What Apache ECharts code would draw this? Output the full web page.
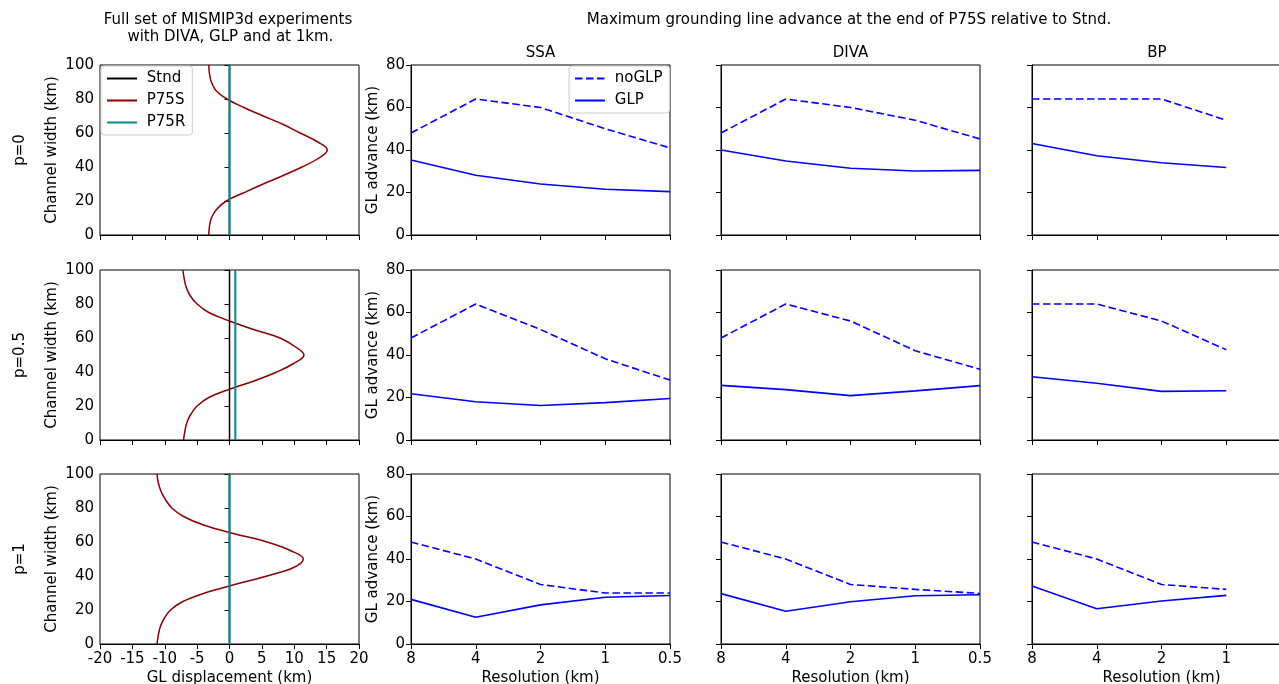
<!DOCTYPE html>
<html>
<head>
<meta charset="utf-8">
<script src="https://cdn.jsdelivr.net/npm/echarts@6/dist/echarts.min.js"></script>
<style>html,body{margin:0;padding:0;background:#fff;}#c{width:1279px;height:684px;}</style>
</head>
<body>
<div id="c"></div>
<script>
// ---------- data ----------
const rowLabels = ['p=0', 'p=0.5', 'p=1'];
const modelNames = ['SSA', 'DIVA', 'BP'];
const resolution = [8, 4, 2, 1, 0.5];
const resolutionBP = [8, 4, 2, 1];
const resolutionTicks = ['8', '4', '2', '1', '0.5'];

// channel-width coordinate for the P75S profiles (km)
const widthY = [0, 5, 10, 15, 20, 25, 30, 35, 40, 45, 50, 55, 60, 65, 70, 75, 80, 85, 90, 95, 100];
// GL displacement of P75S (km) read at widthY
const p75s_p0  = [-3.2, -3.1, -2.8, -2.0, -0.5, 2.3, 5.2, 8.3, 11.2, 13.7, 15.1, 13.5, 10.9, 8.3, 5.2, 2.2, -0.4, -2.1, -2.8, -3.1, -3.2];
const p75s_p05 = [-7.1, -6.9, -6.6, -6.0, -5.0, -3.2, 0.1, 4.0, 7.3, 9.9, 11.5, 10.1, 7.8, 3.7, 0.0, -3.2, -5.0, -6.1, -6.7, -7.0, -7.2];
const p75s_p1  = [-11.2, -11.0, -10.7, -10.1, -9.1, -7.2, -3.8, 0.8, 5.8, 9.9, 11.4, 9.4, 5.8, 0.6, -4.0, -7.1, -8.9, -9.9, -10.6, -11.0, -11.2];
const stndPos = [0, 0, 0];
const p75rPos = [0, 0.9, 0];

// maximum GL advance (km)
const ssaNoGLP_p0  = [48, 64, 60, 50, 41];
const ssaGLP_p0    = [35.3, 28.1, 24, 21.5, 20.4];
const ssaNoGLP_p05 = [48, 64, 52, 38.2, 28.2];
const ssaGLP_p05   = [21.8, 18, 16.2, 17.6, 19.5];
const ssaNoGLP_p1  = [48, 40, 28, 24, 24];
const ssaGLP_p1    = [21, 12.6, 18.4, 22, 22.8];

const divaNoGLP_p0  = [48, 64, 60, 54, 45.2];
const divaGLP_p0    = [40, 34.8, 31.4, 30.1, 30.4];
const divaNoGLP_p05 = [48, 64, 56, 42, 33.3];
const divaGLP_p05   = [25.7, 23.7, 20.9, 23.1, 25.6];
const divaNoGLP_p1  = [48, 40, 28, 25.7, 23.8];
const divaGLP_p1    = [23.7, 15.4, 19.9, 22.7, 23.2];

const bpNoGLP_p0  = [64, 64, 64, 54];
const bpGLP_p0    = [43.1, 37.3, 34, 31.8];
const bpNoGLP_p05 = [64, 64, 56, 42.5];
const bpGLP_p05   = [29.8, 26.7, 22.9, 23.2];
const bpNoGLP_p1  = [48, 40, 28, 25.7];
const bpGLP_p1    = [27.3, 16.6, 20.2, 22.9];

// ---------- layout ----------
const FONT = 'DejaVu Sans';
const FS = 15;
const rowTop = [65, 270, 474];
const colLeft = [100, 411, 721, 1032];
const PW = 259, PH = 170;
const BLUE = '#0000ff', DARKRED = '#8b0000', TEAL = '#008b8b';

const profiles = [p75s_p0, p75s_p05, p75s_p1];
const adv = [
  [[ssaNoGLP_p0, ssaGLP_p0], [divaNoGLP_p0, divaGLP_p0], [bpNoGLP_p0, bpGLP_p0]],
  [[ssaNoGLP_p05, ssaGLP_p05], [divaNoGLP_p05, divaGLP_p05], [bpNoGLP_p05, bpGLP_p05]],
  [[ssaNoGLP_p1, ssaGLP_p1], [divaNoGLP_p1, divaGLP_p1], [bpNoGLP_p1, bpGLP_p1]]
];

const grid = [], xAxis = [], yAxis = [], series = [];
const axisLine = {show: true, lineStyle: {color: '#000', width: 1}};
const axisTick = {show: true, inside: false, length: 5, lineStyle: {color: '#000', width: 1}};
const lbl = (show, m) => ({show: show, color: '#000', fontSize: FS, fontFamily: FONT, margin: m || 6});
const nameStyle = {color: '#000', fontSize: FS, fontFamily: FONT};

let g = 0;
for (let r = 0; r < 3; r++) {
  for (let c = 0; c < 4; c++) {
    grid.push({left: colLeft[c], top: rowTop[r], width: PW, height: PH, show: true,
      borderColor: '#000', borderWidth: 1, backgroundColor: 'transparent',
      containLabel: false, outerBoundsMode: 'none'});
    const bottom = r === 2;
    if (c === 0) {
      xAxis.push({gridIndex: g, type: 'value', min: -20, max: 20, interval: 5,
        axisLine, axisTick, splitLine: {show: false}, axisLabel: lbl(bottom, 8),
        name: bottom ? 'GL displacement (km)' : '', nameLocation: 'middle', nameGap: 27,
        nameTextStyle: nameStyle});
      yAxis.push({gridIndex: g, type: 'value', min: 0, max: 100, interval: 20,
        axisLine, axisTick, splitLine: {show: false}, axisLabel: lbl(true),
        name: 'Channel width (km)', nameLocation: 'middle', nameGap: 40, nameRotate: 90,
        nameTextStyle: nameStyle});
      const prof = profiles[r];
      series.push({name: 'Stnd', type: 'line', xAxisIndex: g, yAxisIndex: g, symbol: 'none',
        lineStyle: {color: '#000', width: 1.5}, itemStyle: {color: '#000'},
        data: [[stndPos[r], 0], [stndPos[r], 100]]});
      series.push({name: 'P75S', type: 'line', xAxisIndex: g, yAxisIndex: g, symbol: 'none',
        smooth: 0.4,
        lineStyle: {color: DARKRED, width: 1.5}, itemStyle: {color: DARKRED},
        data: widthY.map((y, i) => [prof[i], y])});
      series.push({name: 'P75R', type: 'line', xAxisIndex: g, yAxisIndex: g, symbol: 'none',
        lineStyle: {color: TEAL, width: 2}, itemStyle: {color: TEAL},
        data: [[p75rPos[r], 0], [p75rPos[r], 100]]});
    } else {
      xAxis.push({gridIndex: g, type: 'log', logBase: 2, min: 0.5, max: 8, inverse: true,
        axisLine, axisTick, splitLine: {show: false},
        axisLabel: Object.assign(lbl(bottom, 8), {formatter: (v) => {
          const i = resolution.findIndex(x => Math.abs(x - v) < 1e-6);
          return i >= 0 ? resolutionTicks[i] : '';
        }}),
        name: bottom ? 'Resolution (km)' : '', nameLocation: 'middle', nameGap: 27,
        nameTextStyle: nameStyle});
      yAxis.push({gridIndex: g, type: 'value', min: 0, max: 80, interval: 20,
        axisLine, axisTick, splitLine: {show: false}, axisLabel: lbl(c === 1),
        name: c === 1 ? 'GL advance (km)' : '', nameLocation: 'middle', nameGap: 30, nameRotate: 90,
        nameTextStyle: nameStyle});
      const res = c === 3 ? resolutionBP : resolution;
      const [noglp, glp] = adv[r][c - 1];
      series.push({name: 'noGLP', type: 'line', xAxisIndex: g, yAxisIndex: g, symbol: 'none',
        lineStyle: {color: BLUE, width: 1.6, type: [7.5, 3.5]}, itemStyle: {color: BLUE},
        data: res.map((x, i) => [x, noglp[i]])});
      series.push({name: 'GLP', type: 'line', xAxisIndex: g, yAxisIndex: g, symbol: 'none',
        lineStyle: {color: BLUE, width: 1.6}, itemStyle: {color: BLUE},
        data: res.map((x, i) => [x, glp[i]])});
    }
    g++;
  }
}

const txt = (x, y, text, rot) => ({type: 'text', x: x, y: y, rotation: rot || 0, silent: true,
  style: {text: text, fill: '#000', font: FS + 'px "' + FONT + '"', align: 'center', verticalAlign: 'middle', lineHeight: 17}});

const graphic = [
  txt(228, 29, 'Full set of MISMIP3d experiments\n with DIVA, GLP and at 1km.'),
  txt(849, 20, 'Maximum grounding line advance at the end of P75S relative to Stnd.'),
  txt(colLeft[1] + PW / 2, 53, modelNames[0]),
  txt(colLeft[2] + PW / 2, 53, modelNames[1]),
  txt(1157, 53, modelNames[2])
];
for (let r = 0; r < 3; r++) graphic.push(txt(20, rowTop[r] + PH / 2, rowLabels[r], Math.PI / 2));

const legendCommon = {orient: 'vertical', itemWidth: 30, itemHeight: 12, itemGap: 7,
  backgroundColor: 'rgba(255,255,255,0.8)', borderColor: '#cccccc', borderWidth: 1, borderRadius: 3,
  itemStyle: {opacity: 0},
  formatter: (name) => ' ' + name,
  textStyle: {color: '#000', fontSize: FS, fontFamily: FONT},
  selectedMode: false};

const option = {
  animation: false,
  textStyle: {fontFamily: FONT},
  grid, xAxis, yAxis, series, graphic,
  legend: [
    Object.assign({}, legendCommon, {left: 101, top: 66, padding: [5, 7, 5, 5], data: ['Stnd', 'P75S', 'P75R']}),
    Object.assign({}, legendCommon, {left: 569, top: 66, padding: [5, 7, 5, 5], data: ['noGLP', 'GLP']})
  ]
};

const chart = echarts.init(document.getElementById('c'), null, {renderer: 'canvas'});
chart.setOption(option);
</script>
</body>
</html>
